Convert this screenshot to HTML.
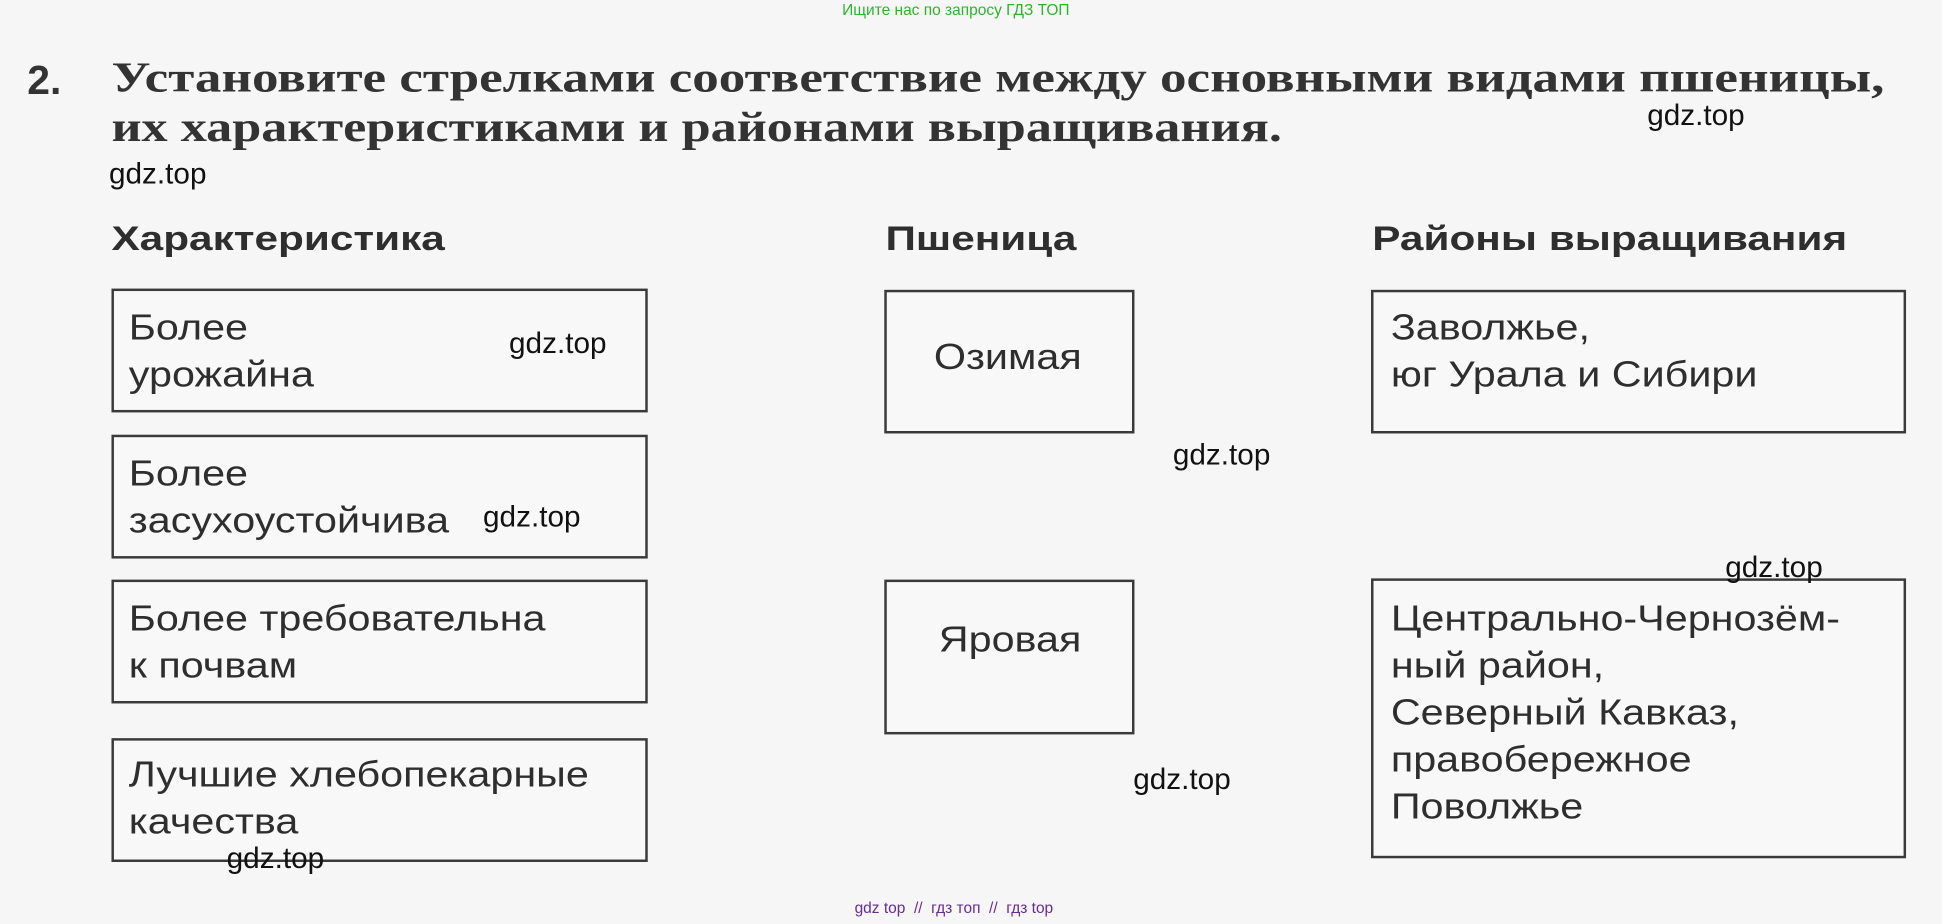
<!DOCTYPE html>
<html><head><meta charset="utf-8"><style>
html,body{margin:0;padding:0;width:1942px;height:924px;overflow:hidden;background:#f6f6f7;}
#w{position:absolute;left:0;top:0;width:1568px;height:746px;transform:scale(1.2385);transform-origin:0 0;font-family:"Liberation Sans",sans-serif;color:#2a2a2a;}
.a{position:absolute;white-space:nowrap;}
.t{font-family:"Liberation Serif",serif;font-weight:bold;font-size:34px;color:#333;transform:scaleX(1.26);transform-origin:0 0;}
.h{font-weight:bold;font-size:28px;color:#2e2e2e;transform:scaleX(1.22);transform-origin:0 0;}
.b{position:absolute;border:2.5px solid #3a3a3a;box-sizing:border-box;background:#f8f8f8;}
.x{position:absolute;font-size:29px;line-height:38px;color:#2e2e2e;white-space:nowrap;transform:scaleX(1.15);transform-origin:0 0;}
.g{position:absolute;font-size:24px;color:#111;}
</style></head><body><div id="w">
<div class="a" style="left:680px;top:1px;font-size:12.5px;color:#2db52d;">Ищите нас по запросу ГДЗ ТОП</div>
<div class="a" style="left:22px;top:46px;font-size:33px;font-weight:bold;color:#333;">2.</div>
<div class="a t" style="left:90px;top:45px;">Установите стрелками соответствие между основными видами пшеницы,</div>
<div class="a" style="left:90px;top:85px;font-family:'Liberation Serif',serif;font-weight:bold;font-size:34px;color:#333;transform:scaleX(1.24);transform-origin:0 0;">их характеристиками и районами выращивания.</div>
<div class="a h" style="left:90px;top:177px;">Характеристика</div>
<div class="a h" style="left:715px;top:177px;">Пшеница</div>
<div class="a h" style="left:1108px;top:177px;">Районы выращивания</div>

<div class="b" style="left:90px;top:233px;width:433px;height:100px;"><div class="x" style="left:12px;top:11px;">Более<br>урожайна</div></div>
<div class="b" style="left:90px;top:351px;width:433px;height:100px;"><div class="x" style="left:12px;top:11px;">Более<br>засухоустойчива</div></div>
<div class="b" style="left:90px;top:468px;width:433px;height:100px;"><div class="x" style="left:12px;top:11px;">Более требовательна<br>к почвам</div></div>
<div class="b" style="left:90px;top:596px;width:433px;height:100px;"><div class="x" style="left:12px;top:9px;">Лучшие хлебопекарные<br>качества</div></div>

<div class="b" style="left:714px;top:234px;width:202px;height:116px;"><div class="x" style="left:38px;top:34px;">Озимая</div></div>
<div class="b" style="left:714px;top:468px;width:202px;height:125px;"><div class="x" style="left:42px;top:28px;">Яровая</div></div>

<div class="b" style="left:1107px;top:234px;width:432px;height:116px;"><div class="x" style="left:14px;top:10px;">Заволжье,<br>юг Урала и Сибири</div></div>
<div class="b" style="left:1107px;top:467px;width:432px;height:226px;"><div class="x" style="left:14px;top:12px;">Центрально-Чернозём-<br>ный район,<br>Северный Кавказ,<br>правобережное<br>Поволжье</div></div>

<div class="g" style="left:1330px;top:80px;">gdz.top</div>
<div class="g" style="left:88px;top:127px;">gdz.top</div>
<div class="g" style="left:411px;top:264px;">gdz.top</div>
<div class="g" style="left:947px;top:354px;">gdz.top</div>
<div class="g" style="left:390px;top:404px;">gdz.top</div>
<div class="g" style="left:1393px;top:445px;">gdz.top</div>
<div class="g" style="left:915px;top:616px;">gdz.top</div>
<div class="g" style="left:183px;top:680px;">gdz.top</div>
<div class="a" style="left:690px;top:726px;font-size:12.5px;color:#6a2a9a;">gdz top &nbsp;//&nbsp; гдз топ &nbsp;//&nbsp; гдз top</div>
</div></body></html>
